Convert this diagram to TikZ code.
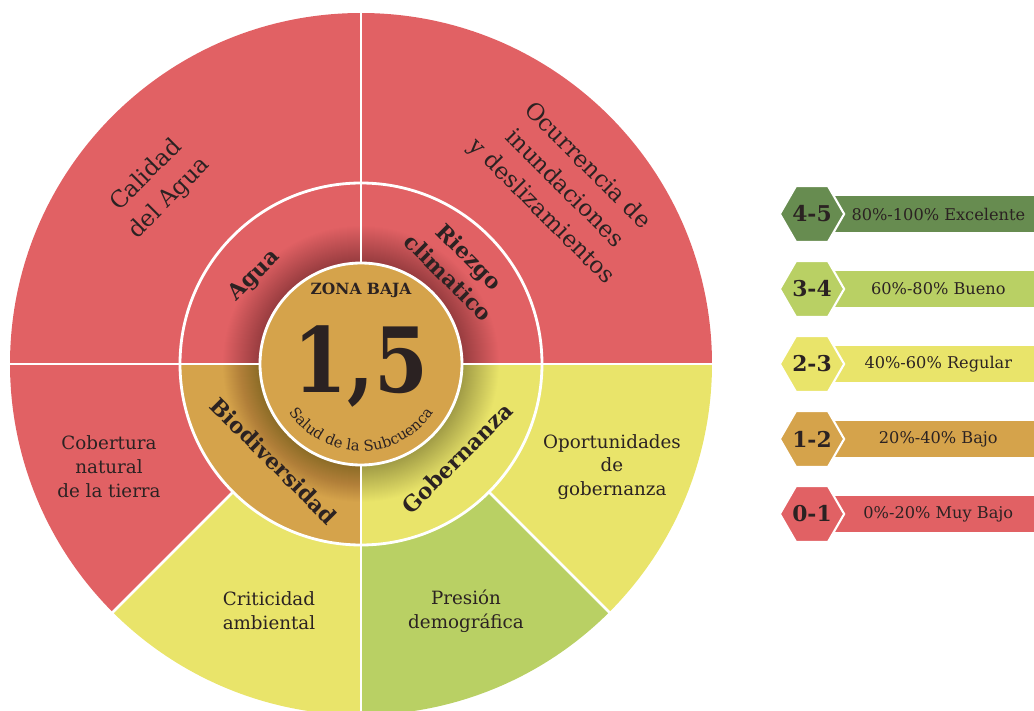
\documentclass[tikz,border=0pt]{standalone}
\usepackage{fontspec}
\setmainfont{DejaVu Serif}
\usepackage{tikz}
\usetikzlibrary{shapes.geometric,decorations.text}
\definecolor{sectred}{HTML}{E16164}
\definecolor{sectyellow}{HTML}{E9E46A}
\definecolor{sectgreen}{HTML}{B9D064}
\definecolor{secttan}{HTML}{D5A34B}
\definecolor{legdark}{HTML}{678C50}
\definecolor{inkdark}{HTML}{2B2222}
\begin{document}
\begin{tikzpicture}[x=0.025cm,y=0.025cm,
	divider/.style={white,line width=2pt},
	outerlabel/.style={text=inkdark,align=center,font=\fontsize{13}{17}\selectfont},
	tiltlabel/.style={text=inkdark,align=center,font=\fontsize{16.5}{23}\selectfont},
	ringlabel/.style={text=inkdark,align=center,font=\bfseries\fontsize{15.5}{21}\selectfont},
	legbar/.style={anchor=west,minimum width=149.4pt,minimum height=26.3pt,inner sep=0pt,text=inkdark,font=\fontsize{11.5}{12}\selectfont},
	leghex/.style={regular polygon,regular polygon sides=6,minimum size=42.7pt,inner sep=0pt,draw=white,line width=1.5pt,text=inkdark,font=\bfseries\fontsize{15.5}{15.5}\selectfont}]
	      \useasboundingbox (-361,-347) rectangle (673,364);
	      \foreach \a/\b/\col in {0/90/sectred,90/180/sectred,180/225/sectred,225/270/sectyellow,270/315/sectgreen,315/360/sectyellow}
	        \fill[\col] (0,0) -- (\a:351) arc[start angle=\a,end angle=\b,radius=351] -- cycle;
	      \foreach \a in {0,90,180,225,270,315}
	        \draw[divider] (\a:181) -- (\a:353);
	      \foreach \a/\col in {0/sectred,90/sectred,180/secttan,270/sectyellow}
	        \fill[\col] (0,0) -- (\a:181) arc[start angle=\a,end angle=\a+90,radius=181] -- cycle;
	      \foreach \r in {102,...,138}
	        \fill[black,opacity=0.008] (0,0) circle (\r);
	      \foreach \a in {0,90,180,270}
	        \draw[divider] (\a:101) -- (\a:181);
	      \draw[divider] (0,0) circle (181);
	      \filldraw[fill=secttan,draw=white,line width=2pt] (0,0) circle (101);
				\node[anchor=base,text=inkdark,font=\bfseries\fontsize{11}{11}\selectfont] (zona) at (0,69) {ZONA BAJA};
				\node[anchor=base,text=inkdark,font=\bfseries\fontsize{64}{64}\selectfont] (score) at (0,-29) {\scalebox{0.86}[1]{1,5}};
				\path[decorate,decoration={text along path,text align=center,text={|\color{inkdark}\fontsize{10.5}{10.5}\selectfont|Salud de la Subcuenca}}] (210:87) arc[start angle=210,end angle=330,radius=87];
				\node[tiltlabel,rotate=45] (calidad) at (-203,177) {Calidad\\del Agua};
				\node[tiltlabel,rotate=-45] (ocurrencia) at (203,175) {Ocurrencia de\\inundaciones\\y deslizamientos};
				\node[ringlabel,rotate=45] (agua) at (-106,88) {Agua};
				\node[ringlabel,rotate=-45] (riezgo) at (98,97) {Riezgo\\climatico};
				\node[ringlabel,rotate=-45] (biodiversidad) at (-87,-97) {Biodiversidad};
				\node[ringlabel,rotate=45] (gobernanza) at (96,-94) {Gobernanza};
				\node[outerlabel] (cobertura) at (-252,-103) {Cobertura\\natural\\de la tierra};
				\node[outerlabel] (criticidad) at (-92,-247) {Criticidad\\ambiental};
				\node[outerlabel] (presion) at (105,-247) {Presión\\demográfica};
				\node[outerlabel] (oportunidades) at (251,-103) {Oportunidades\\de\\gobernanza};
	      \foreach \y/\rng/\col/\txt [count=\i] in {150/4-5/legdark/80\%-100\% Excelente,75/3-4/sectgreen/60\%-80\% Bueno,0/2-3/sectyellow/40\%-60\% Regular,-75/1-2/secttan/20\%-40\% Bajo,-150/0-1/sectred/0\%-20\% Muy Bajo}
	        {
	        \node[legbar,fill=\col] (bar\i) at (472,\y) {\txt};
	        \node[leghex,fill=\col] (hex\i) at (451,\y) {\rng};
	        }
	  \end{tikzpicture}
\end{document}
